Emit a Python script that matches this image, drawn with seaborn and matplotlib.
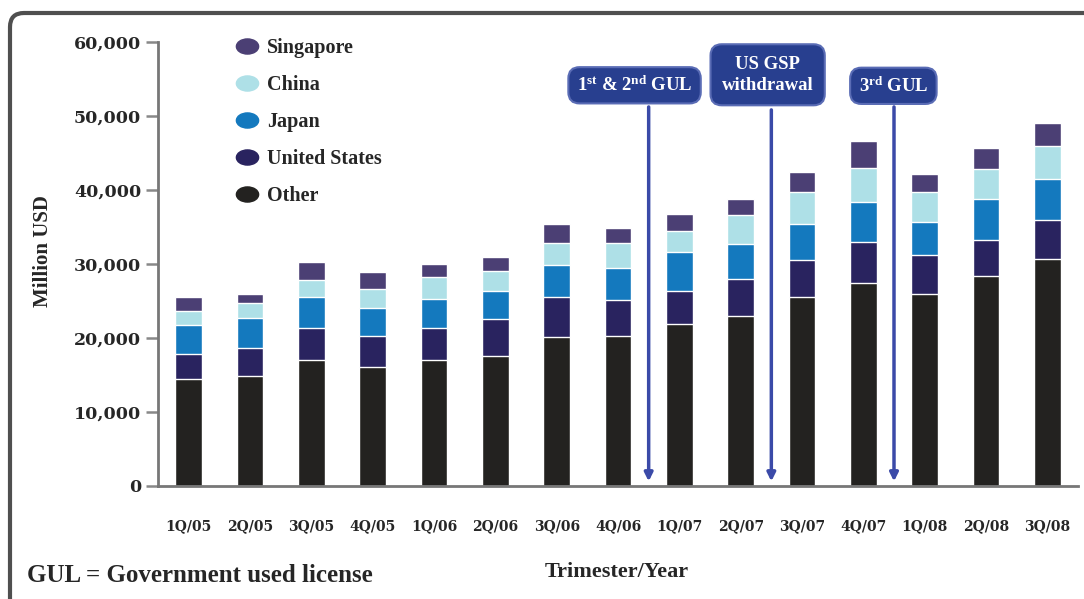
import numpy as np
import pandas as pd
import seaborn as sns
import matplotlib.pyplot as plt
import matplotlib.path as mpath
from matplotlib.lines import Line2D
from matplotlib.patches import FancyBboxPatch
from matplotlib.transforms import IdentityTransform

quarters = ['1Q/05', '2Q/05', '3Q/05', '4Q/05', '1Q/06', '2Q/06', '3Q/06', '4Q/06',
            '1Q/07', '2Q/07', '3Q/07', '4Q/07', '1Q/08', '2Q/08', '3Q/08']

other = [14500, 14800, 17000, 16100, 17000, 17600, 20100, 20300, 21900, 23000, 25500, 27500, 26000, 28400, 30700]
united_states = [3400, 3900, 4400, 4200, 4400, 5000, 5500, 4800, 4500, 5000, 5000, 5500, 5200, 4800, 5200]
japan = [3900, 4000, 4200, 3800, 3900, 3800, 4300, 4300, 5200, 4700, 4900, 5400, 4500, 5600, 5600]
china = [1900, 2000, 2300, 2500, 2900, 2700, 3000, 3400, 2900, 3900, 4300, 4600, 4000, 4000, 4500]
singapore = [1800, 1300, 2400, 2300, 1800, 1900, 2500, 2000, 2300, 2200, 2700, 3600, 2500, 2900, 3100]

countries = ['Other', 'United States', 'Japan', 'China', 'Singapore']
colors = {'Other': '#232220', 'United States': '#29235f', 'Japan': '#1479be',
          'China': '#aee0e7', 'Singapore': '#4b3f74'}

events = ['1$^{\\mathrm{st}}$ & 2$^{\\mathrm{nd}}$ GUL', 'US GSP\nwithdrawal', '3$^{\\mathrm{rd}}$ GUL']
event_pos = [7.5, 9.5, 11.5]

df = pd.DataFrame({'Quarter': quarters, 'Other': other, 'United States': united_states,
                   'Japan': japan, 'China': china, 'Singapore': singapore})
cum = df[countries].cumsum(axis=1)

sns.set_style('white')
plt.rcParams['font.family'] = ['Liberation Serif', 'DejaVu Serif']
plt.rcParams['mathtext.fontset'] = 'custom'
plt.rcParams['mathtext.rm'] = 'Liberation Serif:bold'
plt.rcParams['mathtext.it'] = 'Liberation Serif:bold'
plt.rcParams['mathtext.bf'] = 'Liberation Serif:bold'

fig = plt.figure(figsize=(10.84, 5.99), dpi=100)
ax = fig.add_axes([158 / 1084, 1 - 486 / 599, 920 / 1084, 444 / 599])

# stacked bars: draw the running totals from the top layer down
for c in countries[::-1]:
    sns.barplot(x=df['Quarter'], y=cum[c], color=colors[c], width=0.44,
                saturation=1, ax=ax, order=quarters)

ax.set_xlim(-0.5, 14.5)
ax.set_ylim(0, 60000)
ax.set_yticks(np.arange(0, 60001, 10000))
ax.set_yticklabels([f'{v:,}' for v in range(0, 60001, 10000)],
                   family='DejaVu Serif', fontweight='bold', fontsize=12.5)
ax.set_xticks(range(len(quarters)))
ax.set_xticklabels(quarters, family='DejaVu Serif', fontweight='bold', fontsize=10)
ax.set_xticks(np.arange(-0.5, 15, 1), minor=True)
ax.tick_params(axis='x', which='major', length=0, pad=24)
ax.tick_params(axis='x', which='minor', direction='out', length=7, width=1.5, color='#555555')
ax.tick_params(axis='y', direction='out', length=9, width=1.8, color='#888888', pad=3, left=True)
ax.set_xlabel('')
ax.set_ylabel('')
for s in ['top', 'right']:
    ax.spines[s].set_visible(False)
for s in ['left', 'bottom']:
    ax.spines[s].set_color('#777777')
    ax.spines[s].set_linewidth(2)

# event call-outs
text_x = [7.27, 9.44, 11.49]
text_y = [54150, 55570, 54080]
box_bottom = [51600, 51200, 51600]
for lab, xp, tx, ty, yb in zip(events, event_pos, text_x, text_y, box_bottom):
    ax.annotate('', xy=(xp, 250), xytext=(xp, yb),
                arrowprops=dict(arrowstyle='-|>', color='#3b4aa8', lw=2.5, mutation_scale=12))
    pad = 0.6 if '\n' in lab else 0.45
    ax.text(tx, ty, lab, ha='center', va='center', color='white', fontsize=13.5,
            fontweight='bold', linespacing=1.35, zorder=5,
            bbox=dict(boxstyle=f'round,pad={pad},rounding_size=0.6', fc='#283f8f', ec='#5a6cb5', lw=1.5))

# legend with oval markers
oval = mpath.Path(mpath.Path.unit_circle().vertices * [1.0, 0.68], mpath.Path.unit_circle().codes)
handles = [Line2D([], [], ls='', marker=oval, markersize=16, color=colors[c]) for c in countries[::-1]]
ax.legend(handles, countries[::-1], loc='upper left', bbox_to_anchor=(227 / 1084, 1 - 30 / 599),
          bbox_transform=fig.transFigure, frameon=False, prop=dict(weight='bold', size=14.5),
          labelspacing=0.84, handletextpad=0.4, handlelength=1.2, borderaxespad=0)

fig.text(43 / 1084, 1 - 251 / 599, 'Million USD', rotation=90, ha='center', va='center',
         fontsize=15, fontweight='bold')
fig.text(617 / 1084, 1 - 572 / 599, 'Trimester/Year', ha='center', va='center',
         fontsize=16, fontweight='bold')
fig.text(27 / 1084, 1 - 576 / 599, 'GUL = Government used license', ha='left', va='center',
         fontsize=18, fontweight='bold')

# rounded frame around the panel
frame = FancyBboxPatch((10, -40), 1140, 40 + 599 - 13, boxstyle='round,pad=0,rounding_size=14',
                       fc='none', ec='#4f4f4f', lw=3, transform=IdentityTransform())
fig.add_artist(frame)

fig.savefig('out.png', dpi=100)
